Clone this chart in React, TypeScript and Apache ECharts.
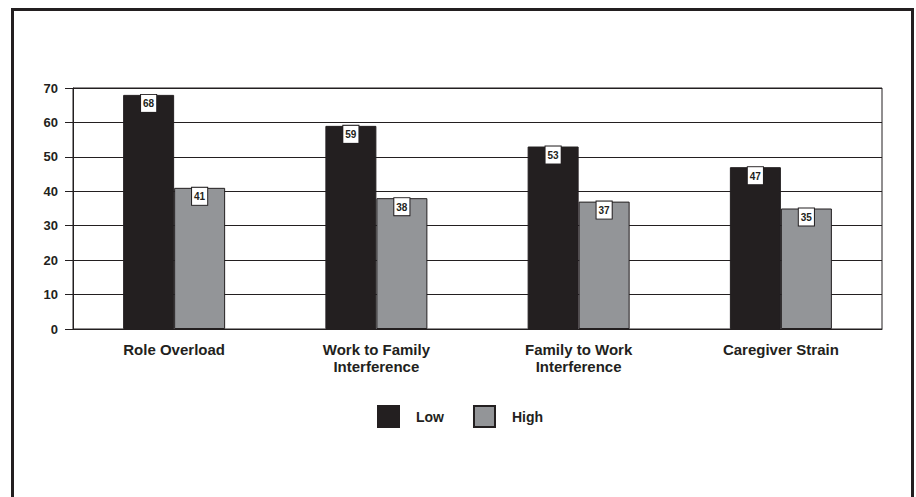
import React, { useEffect, useRef } from "react";
import * as echarts from "echarts";

const categories = ["Role Overload", "Work to Family\nInterference", "Family to Work\nInterference", "Caregiver Strain"];
const lowValues = [68, 59, 53, 47];
const highValues = [41, 38, 37, 35];
const seriesNames = ["Low", "High"];

const DARK = "#231f20";
const GREY = "#939598";
const FONT = "'Liberation Sans', Arial, sans-serif";

export default function App() {
  const ref = useRef<HTMLDivElement>(null);
  useEffect(() => {
    document.body.style.margin = "0";
    const chart = echarts.init(ref.current!, null, { renderer: "svg" });
    const label = {
      show: true,
      position: "insideTop" as const,
      distance: 0,
      color: DARK,
      fontFamily: FONT,
      fontWeight: "bold" as const,
      fontSize: 10,
      backgroundColor: "#ffffff",
      borderColor: DARK,
      borderWidth: 1,
      padding: [4, 2, 3, 2],
    };
    chart.setOption({
      animation: false,
      textStyle: { fontFamily: FONT },
      grid: { left: 73, top: 88, right: 34, bottom: 168, show: true, borderColor: DARK, borderWidth: 1 },
      legend: {
        left: 377,
        top: 405,
        padding: 0,
        icon: "rect",
        itemWidth: 21,
        itemHeight: 21,
        itemGap: 29,
        data: seriesNames,
        textStyle: { fontFamily: FONT, fontWeight: "bold", fontSize: 14, color: DARK, padding: [0, 0, 0, 12] },
      },
      xAxis: {
        type: "category",
        data: categories,
        axisLine: { lineStyle: { color: DARK, width: 1 } },
        axisTick: { alignWithLabel: true, length: 8, lineStyle: { color: DARK } },
        axisLabel: { color: DARK, fontWeight: "bold", fontSize: 15, lineHeight: 17, margin: 12, fontFamily: FONT },
      },
      yAxis: {
        type: "value",
        min: 0,
        max: 70,
        interval: 10,
        axisLine: { show: true, lineStyle: { color: DARK, width: 1 } },
        axisTick: { show: true, length: 8, lineStyle: { color: DARK } },
        axisLabel: { color: DARK, fontWeight: "bold", fontSize: 13, margin: 15, fontFamily: FONT },
        splitLine: { show: true, lineStyle: { color: DARK, width: 1 } },
      },
      series: [
        {
          name: seriesNames[0],
          type: "bar",
          data: lowValues,
          barWidth: 51,
          barGap: "0%",
          itemStyle: { color: DARK, borderColor: DARK, borderWidth: 1 },
          label,
        },
        {
          name: seriesNames[1],
          type: "bar",
          data: highValues,
          barWidth: 51,
          barGap: "0%",
          itemStyle: { color: GREY, borderColor: DARK, borderWidth: 1 },
          label,
        },
      ],
      graphic: [
        {
          type: "rect",
          shape: { x: 12.5, y: 9.5, width: 900, height: 520 },
          style: { fill: "none", stroke: DARK, lineWidth: 3 },
          silent: true,
        },
      ],
    });
    return () => chart.dispose();
  }, []);
  return <div ref={ref} style={{ width: 916, height: 497 }} />;
}
